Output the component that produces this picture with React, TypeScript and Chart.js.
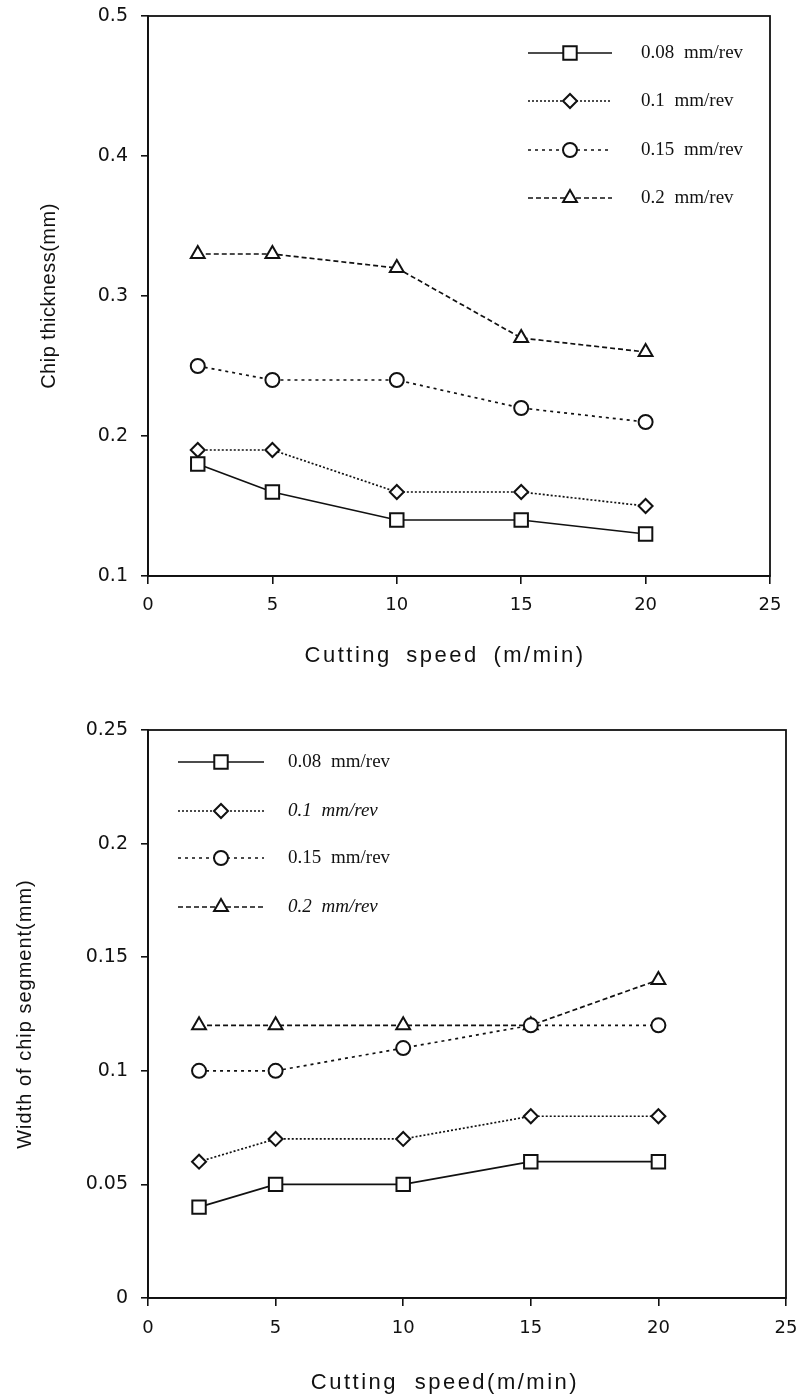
import React, { useEffect, useRef } from 'react';
import { Chart, registerables } from 'chart.js';
import { drawPoint } from 'chart.js/helpers';

Chart.register(...registerables);

// ---------- data ----------
const speeds = [2, 5, 10, 15, 20];
const feedLabels = ['0.08 mm/rev', '0.1 mm/rev', '0.15 mm/rev', '0.2 mm/rev'];

const thickness008 = [0.18, 0.16, 0.14, 0.14, 0.13];
const thickness010 = [0.19, 0.19, 0.16, 0.16, 0.15];
const thickness015 = [0.25, 0.24, 0.24, 0.22, 0.21];
const thickness020 = [0.33, 0.33, 0.32, 0.27, 0.26];

const width008 = [0.04, 0.05, 0.05, 0.06, 0.06];
const width010 = [0.06, 0.07, 0.07, 0.08, 0.08];
const width015 = [0.1, 0.1, 0.11, 0.12, 0.12];
const width020 = [0.12, 0.12, 0.12, 0.12, 0.14];

const xTicks = [0, 5, 10, 15, 20, 25];
const yTicksThickness = [0.1, 0.2, 0.3, 0.4, 0.5];
const yTicksWidth = [0, 0.05, 0.1, 0.15, 0.2, 0.25];

// ---------- styles ----------
const INK = '#111';
const SANS = "'Liberation Sans', Arial, Helvetica, sans-serif";
const WIDE = "'DejaVu Sans', 'Liberation Sans', Arial, sans-serif";
const SERIF = "'Liberation Serif', 'Times New Roman', serif";

const seriesStyles = [
  { borderDash: [], pointStyle: 'rect', pointRadius: 9.5 },
  { borderDash: [2, 2], pointStyle: 'rectRot', pointRadius: 7 },
  { borderDash: [3, 4], pointStyle: 'circle', pointRadius: 7 },
  { borderDash: [5, 3], pointStyle: 'triangle', pointRadius: 8 },
];

function buildDatasets(seriesValues: number[][]) {
  return seriesValues.map((vals, i) => ({
    label: feedLabels[i],
    data: speeds.map((s, j) => ({ x: s, y: vals[j] })),
    borderColor: INK,
    borderWidth: 1.7,
    borderDash: seriesStyles[i].borderDash,
    pointStyle: seriesStyles[i].pointStyle,
    pointRadius: seriesStyles[i].pointRadius,
    pointBackgroundColor: '#fff',
    pointBorderColor: INK,
    pointBorderWidth: 2,
    tension: 0,
    fill: false,
  }));
}

// ---------- plugins ----------
const framePlugin = {
  id: 'frame',
  afterDraw(chart: any) {
    const { ctx, chartArea: a } = chart;
    ctx.save();
    ctx.strokeStyle = INK;
    ctx.lineWidth = 1.8;
    ctx.strokeRect(a.left, a.top, a.right - a.left, a.bottom - a.top);
    ctx.restore();
  },
};

const inlineLegendPlugin = {
  id: 'inlineLegend',
  afterDatasetsDraw(chart: any, _args: any, opts: any) {
    if (!opts || !opts.rows) return;
    const ctx = chart.ctx;
    chart.data.datasets.forEach((ds: any, i: number) => {
      const y = opts.rows[i];
      ctx.save();
      ctx.strokeStyle = INK;
      ctx.lineWidth = ds.borderWidth;
      ctx.setLineDash(ds.borderDash || []);
      ctx.beginPath();
      ctx.moveTo(opts.x0, y);
      ctx.lineTo(opts.x1, y);
      ctx.stroke();
      ctx.setLineDash([]);
      ctx.fillStyle = '#fff';
      ctx.strokeStyle = INK;
      ctx.lineWidth = ds.pointBorderWidth;
      drawPoint(
        ctx,
        { pointStyle: ds.pointStyle, radius: ds.pointRadius, rotation: 0, borderWidth: ds.pointBorderWidth } as any,
        opts.xm,
        y
      );
      ctx.fillStyle = INK;
      const it = opts.italic && opts.italic[i] ? 'italic ' : '';
      ctx.font = `${it}${opts.fontSize}px ${SERIF}`;
      try {
        ctx.wordSpacing = '5px';
      } catch (e) {}
      ctx.textAlign = 'left';
      ctx.textBaseline = 'middle';
      ctx.fillText(ds.label, opts.xText, y);
      ctx.restore();
    });
  },
};

function patchTitle(scale: any, dx: number, dy: number, spacing: number, wordSpacing: number) {
  if (scale.__patched) return;
  scale.__patched = true;
  const orig = scale.drawTitle;
  scale.drawTitle = function (...args: any[]) {
    const ctx = this.ctx;
    ctx.save();
    ctx.translate(dx, dy);
    try {
      ctx.letterSpacing = spacing + 'px';
      ctx.wordSpacing = wordSpacing + 'px';
    } catch (e) {}
    orig.apply(this, args);
    ctx.restore();
  };
}

// ---------- config builder ----------
interface PanelCfg {
  values: number[][];
  yTicks: number[];
  yMin: number;
  yMax: number;
  yTitle: string;
  xTitle: string;
  padTop: number;
  padRight: number;
  xAxisHeight: number;
  xTickPad: number;
  xTitlePadBottom: number;
  xTitleDx: number;
  xTitleSpacing: number;
  xTitleWordSpacing: number;
  yTitleSize: number;
  yTitlePadTop: number;
  yTitleSpacing: number;
  legend: any;
}

function makeConfig(p: PanelCfg): any {
  return {
    type: 'line',
    data: { datasets: buildDatasets(p.values) },
    plugins: [framePlugin, inlineLegendPlugin],
    options: {
      animation: false,
      responsive: false,
      maintainAspectRatio: false,
      layout: { padding: { top: p.padTop, right: p.padRight, left: 0, bottom: 0 } },
      plugins: {
        legend: { display: false },
        tooltip: { enabled: false },
        inlineLegend: p.legend,
      },
      scales: {
        x: {
          type: 'linear',
          min: 0,
          max: 25,
          afterBuildTicks: (s: any) => {
            s.ticks = xTicks.map((v) => ({ value: v }));
          },
          afterFit: (s: any) => {
            s.height = p.xAxisHeight;
            s.paddingLeft = 0;
            s.paddingRight = 0;
            patchTitle(s, p.xTitleDx, 0, p.xTitleSpacing, p.xTitleWordSpacing);
          },
          grid: { drawOnChartArea: false, drawTicks: true, tickLength: 8, color: INK, lineWidth: 1.6 },
          border: { display: true, color: INK, width: 1.8 },
          ticks: {
            color: INK,
            padding: p.xTickPad,
            autoSkip: false,
            maxRotation: 0,
            font: { family: WIDE, size: 18 },
            callback: (v: any) => String(v),
          },
          title: {
            display: true,
            text: p.xTitle,
            color: INK,
            font: { family: SANS, size: 22 },
            padding: { top: 0, bottom: p.xTitlePadBottom },
          },
        },
        y: {
          type: 'linear',
          min: p.yMin,
          max: p.yMax,
          afterBuildTicks: (s: any) => {
            s.ticks = p.yTicks.map((v) => ({ value: v }));
          },
          afterFit: (s: any) => {
            s.width = 148;
            s.paddingTop = 0;
            s.paddingBottom = 0;
            patchTitle(s, 0, 0, p.yTitleSpacing, 0);
          },
          grid: { drawOnChartArea: false, drawTicks: true, tickLength: 7, color: INK, lineWidth: 1.6 },
          border: { display: true, color: INK, width: 1.8 },
          ticks: {
            color: INK,
            padding: 13,
            autoSkip: false,
            font: { family: WIDE, size: 19 },
            callback: (v: any) => String(v),
          },
          title: {
            display: true,
            text: p.yTitle,
            color: INK,
            font: { family: SANS, size: p.yTitleSize },
            padding: { top: p.yTitlePadTop, bottom: 0 },
          },
        },
      },
    },
  };
}

function ChartPanel({ cfg, width, height, top }: { cfg: PanelCfg; width: number; height: number; top: number }) {
  const ref = useRef<HTMLCanvasElement | null>(null);
  useEffect(() => {
    if (!ref.current) return;
    const chart = new Chart(ref.current, makeConfig(cfg));
    return () => chart.destroy();
  }, [cfg]);
  return (
    <canvas
      ref={ref}
      width={width}
      height={height}
      style={{ position: 'absolute', left: 0, top, width, height, display: 'block' }}
    />
  );
}

const thicknessPanel: PanelCfg = {
  values: [thickness008, thickness010, thickness015, thickness020],
  yTicks: yTicksThickness,
  yMin: 0.1,
  yMax: 0.5,
  yTitle: 'Chip thickness(mm)',
  xTitle: 'Cutting speed (m/min)',
  padTop: 16,
  padRight: 32,
  xAxisHeight: 124,
  xTickPad: 11,
  xTitlePadBottom: 31,
  xTitleDx: -14,
  xTitleSpacing: 2.5,
  xTitleWordSpacing: 6,
  yTitleSize: 20,
  yTitlePadTop: 37,
  yTitleSpacing: 0.5,
  legend: { rows: [53, 101, 150, 198], x0: 528, x1: 612, xm: 570, xText: 641, fontSize: 19, italic: [false, false, false, false] },
};

const widthPanel: PanelCfg = {
  values: [width008, width010, width015, width020],
  yTicks: yTicksWidth,
  yMin: 0,
  yMax: 0.25,
  yTitle: 'Width of chip segment(mm)',
  xTitle: 'Cutting speed(m/min)',
  padTop: 30,
  padRight: 16,
  xAxisHeight: 101,
  xTickPad: 12,
  xTitlePadBottom: 3,
  xTitleDx: -22,
  xTitleSpacing: 2.5,
  xTitleWordSpacing: 8,
  yTitleSize: 20,
  yTitlePadTop: 13,
  yTitleSpacing: 1,
  legend: { rows: [62, 111, 158, 207], x0: 178, x1: 264, xm: 221, xText: 288, fontSize: 19, italic: [false, true, false, true] },
};

export default function App() {
  return (
    <div style={{ position: 'absolute', left: 0, top: 0, width: 802, height: 1399, background: '#fff' }}>
      <ChartPanel cfg={thicknessPanel} width={802} height={700} top={0} />
      <ChartPanel cfg={widthPanel} width={802} height={699} top={700} />
    </div>
  );
}
